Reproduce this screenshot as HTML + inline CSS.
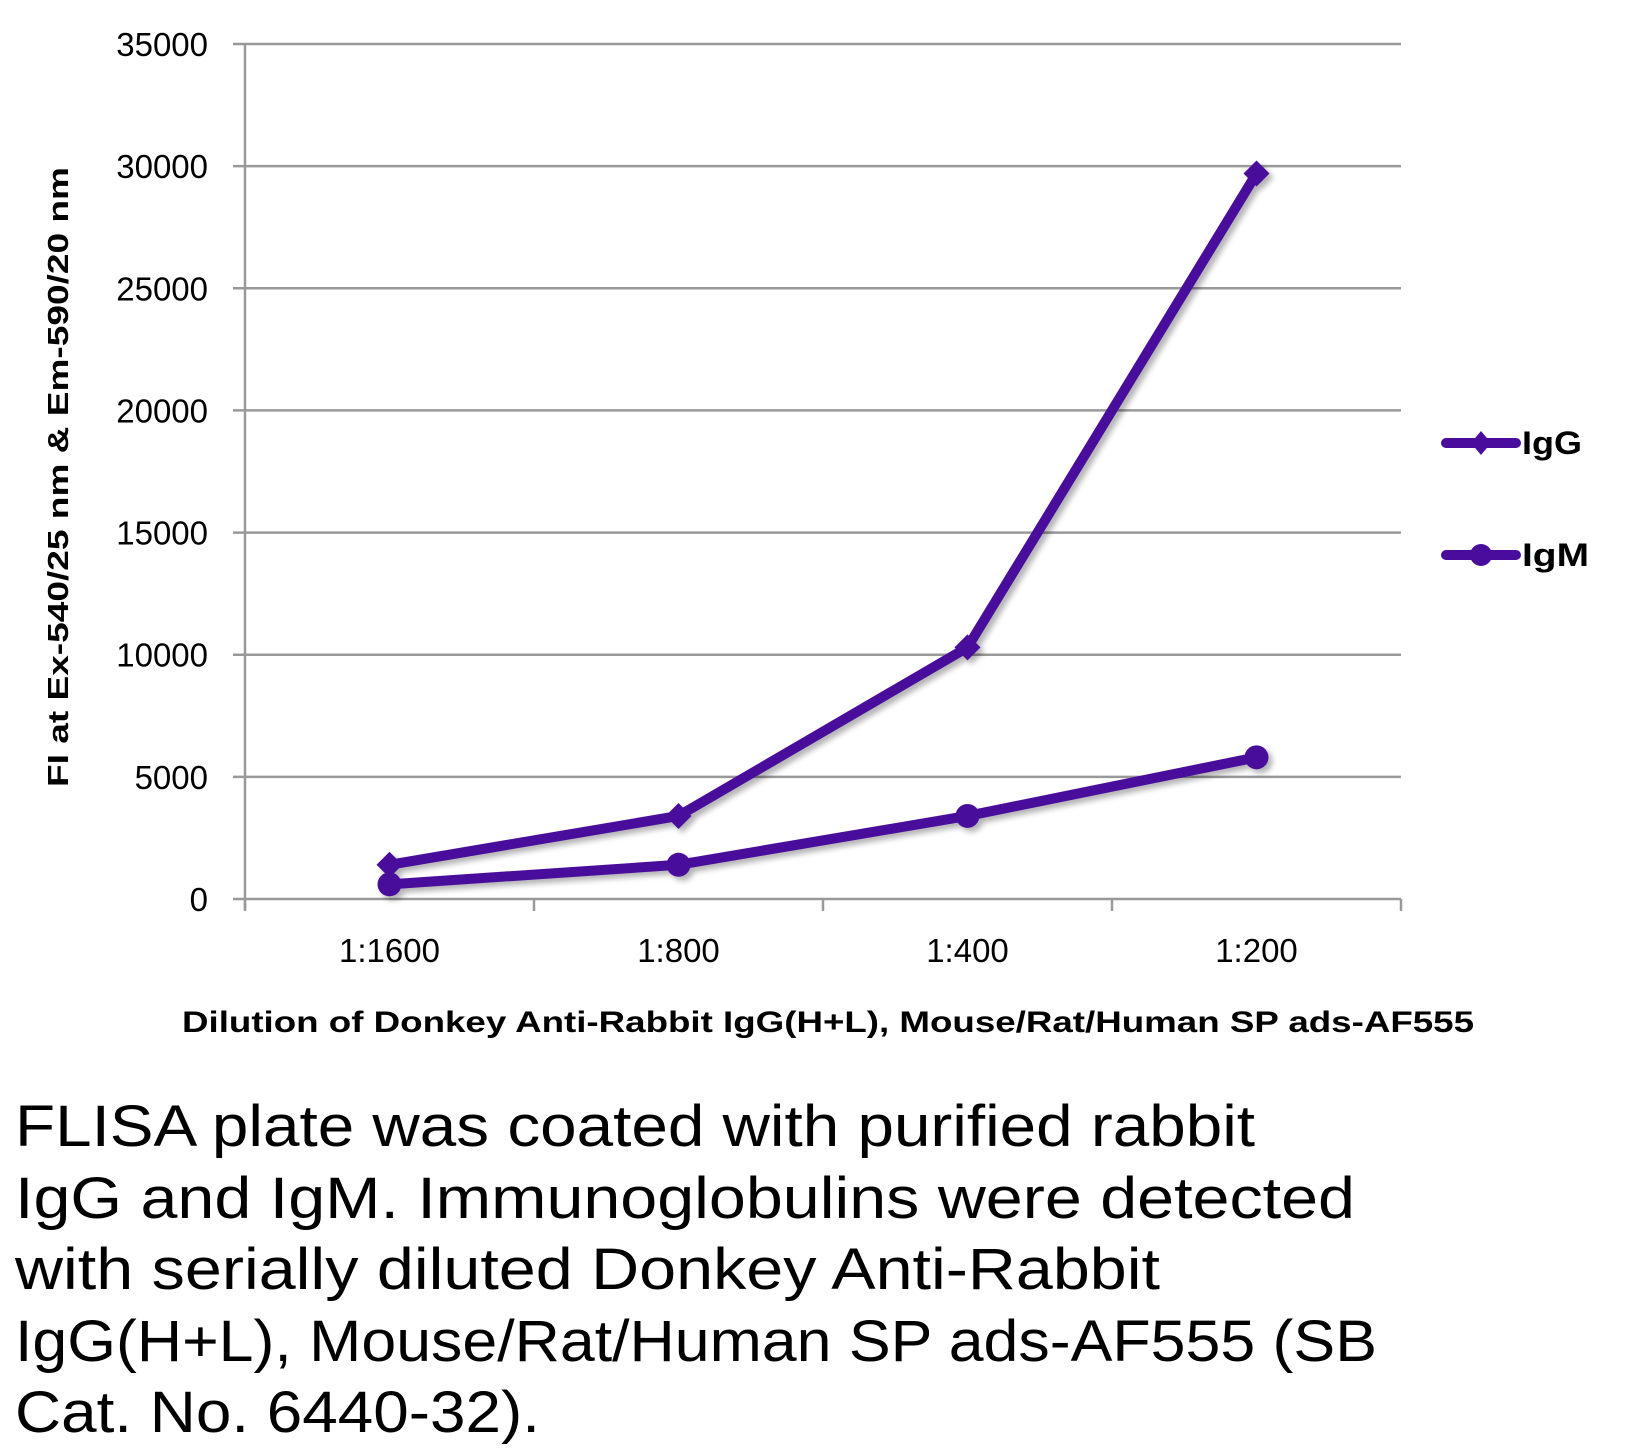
<!DOCTYPE html>
<html><head><meta charset="utf-8"><style>
html,body{margin:0;padding:0;background:#fff;}
svg{display:block;font-family:"Liberation Sans",sans-serif;}
</style></head><body>
<svg id="chart" width="1625" height="1454" viewBox="0 0 1625 1454" xmlns="http://www.w3.org/2000/svg">
<defs><filter id="sh" x="-10%" y="-10%" width="120%" height="120%"><feGaussianBlur in="SourceAlpha" stdDeviation="3"/><feOffset dx="4" dy="4"/><feComponentTransfer><feFuncA type="linear" slope="0.3"/></feComponentTransfer><feMerge><feMergeNode/><feMergeNode in="SourceGraphic"/></feMerge></filter></defs>
<g id="grid"></g>
<g id="yticks"></g>
<g id="xaxis"></g>
<g id="series" filter="url(#sh)"></g>
<text transform="translate(68,477) rotate(-90)" text-anchor="middle" font-size="29" font-weight="bold" textLength="620" lengthAdjust="spacingAndGlyphs">FI at Ex-540/25 nm &amp; Em-590/20 nm</text>
<text x="828" y="1032" text-anchor="middle" font-size="30" font-weight="bold" textLength="1292" lengthAdjust="spacingAndGlyphs">Dilution of Donkey Anti-Rabbit IgG(H+L), Mouse/Rat/Human SP ads-AF555</text>
<g>
<g>
<line x1="1446" y1="443" x2="1516" y2="443" stroke="#4a0c9c" stroke-width="10" stroke-linecap="round"/>
<polygon points="1481,431 1491,443 1481,455 1471,443" fill="#4a0c9c"/>
<text x="1522" y="454" font-size="32" font-weight="bold" textLength="60" lengthAdjust="spacingAndGlyphs">IgG</text></g>
<g>
<line x1="1446" y1="555" x2="1516" y2="555" stroke="#4a0c9c" stroke-width="10" stroke-linecap="round"/>
<circle cx="1481" cy="555" r="11" fill="#4a0c9c"/>
<text x="1522" y="566" font-size="32" font-weight="bold" textLength="67" lengthAdjust="spacingAndGlyphs">IgM</text></g>
</g>
<g font-size="58">
<text x="15" y="1146" textLength="1240" lengthAdjust="spacingAndGlyphs">FLISA plate was coated with purified rabbit</text>
<text x="15" y="1218" textLength="1340" lengthAdjust="spacingAndGlyphs">IgG and IgM.  Immunoglobulins were detected</text>
<text x="15" y="1289" textLength="1145" lengthAdjust="spacingAndGlyphs">with serially diluted Donkey Anti-Rabbit</text>
<text x="15" y="1361" textLength="1362" lengthAdjust="spacingAndGlyphs">IgG(H+L), Mouse/Rat/Human SP ads-AF555 (SB</text>
<text x="15" y="1432" textLength="525" lengthAdjust="spacingAndGlyphs">Cat. No. 6440-32).</text>
</g>
</svg>
<script>
const categories = ["1:1600","1:800","1:400","1:200"];
const iggValues = [1400, 3400, 10300, 29700];
const igmValues = [600, 1400, 3400, 5800];
const yTicks = [0,5000,10000,15000,20000,25000,30000,35000];
const NS="http://www.w3.org/2000/svg";
const X0=245,X1=1401,Y0=899,Y1=44,YMAX=35000;
const band=(X1-X0)/categories.length;
const xs=i=>X0+band*(i+0.5);
const ys=v=>Y0-(v/YMAX)*(Y0-Y1);
function mk(tag,attrs,parent){const e=document.createElementNS(NS,tag);for(const k in attrs)e.setAttribute(k,attrs[k]);parent.appendChild(e);return e;}
const grid=document.getElementById('grid'),yt=document.getElementById('yticks'),xa=document.getElementById('xaxis'),ser=document.getElementById('series');
yTicks.forEach(v=>{
  const y=ys(v);
  const l=mk('line',{x1:X0-12,x2:X1,y1:y,y2:y,stroke:'#999','stroke-width':2.5},grid);
  
  
  const t=mk('text',{x:208,y:y+12,'text-anchor':'end','font-size':33},yt);
  t.textContent=v;
  
  
});
mk('line',{x1:X0,x2:X0,y1:Y1,y2:Y0+10,stroke:'#999','stroke-width':2.5},xa);
for(let i=0;i<=categories.length;i++){const x=X0+band*i;mk('line',{x1:x,x2:x,y1:Y0,y2:Y0+12,stroke:'#999','stroke-width':2.5},xa);}
categories.forEach((c,i)=>{
  const t=mk('text',{x:xs(i),y:962,'text-anchor':'middle','font-size':33},xa);
  t.textContent=c;
  
  
});
const col='#4a0c9c';
function series(vals,name,marker){
  const g=mk('g',{},ser);
  
  
  const p=vals.map((v,i)=>xs(i)+','+ys(v)).join(' ');
  mk('polyline',{points:p,fill:'none',stroke:col,'stroke-width':10,'stroke-linejoin':'round','stroke-linecap':'round'},g);
  vals.forEach((v,i)=>{
    const x=xs(i),y=ys(v);let m;
    if(marker==='d')m=mk('polygon',{points:`${x},${y-13} ${x+13},${y} ${x},${y+13} ${x-13},${y}`,fill:col},g);
    else m=mk('circle',{cx:x,cy:y,r:12,fill:col},g);
    
    
  });
}
series(igmValues,'igm-series','c');
series(iggValues,'igg-series','d');
</script>
</body></html>
